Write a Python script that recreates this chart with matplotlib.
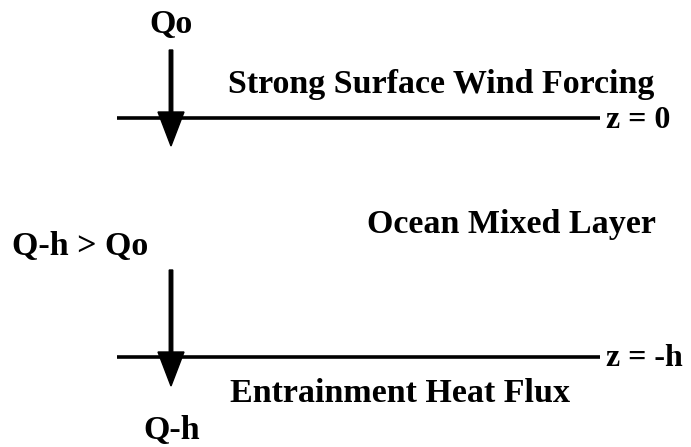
import matplotlib.pyplot as plt

# diagram layout in pixel units (y down)
levels = ["z = 0", "z = -h"]
level_y = [118, 357]
line_x = [117, 600]
arrow_x = 171
arrow_top = [50, 270]
arrow_tip = [146, 386]

labels = ["Qo", "Strong Surface Wind Forcing", "Ocean Mixed Layer",
          "Q-h > Qo", "Entrainment Heat Flux", "Q-h"]
label_xy = [(171, 24), (441, 84), (511, 224), (80, 247), (400, 394), (172, 430)]

fig = plt.figure(figsize=(6.91, 4.47), dpi=100)
ax = fig.add_axes([0, 0, 1, 1])
ax.set_xlim(0, 691)
ax.set_ylim(447, 0)
ax.axis("off")

font = dict(family="Liberation Serif", weight="bold", size=24.5)

for lv, y in zip(levels, level_y):
    ax.plot(line_x, [y, y], color="black", lw=2.6, solid_capstyle="butt")
    ax.text(line_x[1] + 6, y + 2, lv, ha="left", va="center",
            family="Liberation Serif", weight="bold", size=23)

for y0, y1 in zip(arrow_top, arrow_tip):
    ax.arrow(arrow_x, y0, 0, y1 - y0, width=3.5, head_width=26, head_length=34,
             length_includes_head=True, color="black")

for t, (x, y) in zip(labels, label_xy):
    ax.text(x, y, t, ha="center", va="center", **font)

fig.savefig("out.png", dpi=100)
